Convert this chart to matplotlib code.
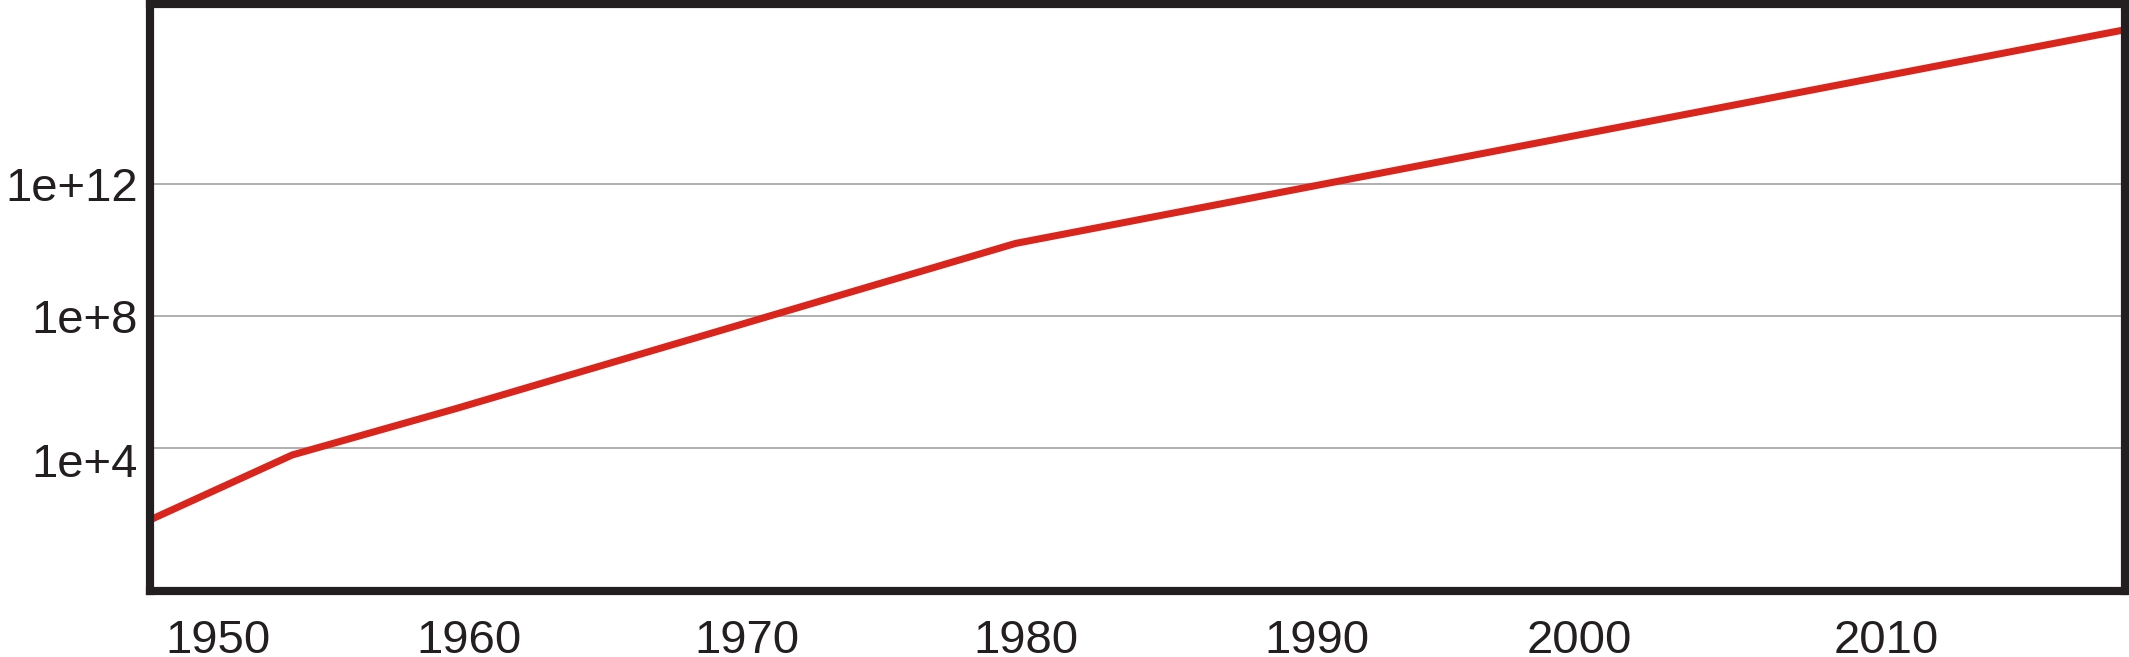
import matplotlib
matplotlib.use("Agg")
import matplotlib.pyplot as plt
from matplotlib.ticker import FixedLocator, FixedFormatter, NullLocator
from matplotlib.transforms import ScaledTranslation

# Data (log-scale values)
years = [1948.0, 1953.3, 1959.2, 1979.3, 2019.2]
values = [54, 6.0e3, 1.55e5, 1.6e10, 5.0e16]

# tick label positions as they appear in the reference (slightly irregular)
x_ticks = [1950.65, 1959.66, 1969.65, 1979.69, 1990.14, 1999.55, 2010.59]
x_labels = ["1950", "1960", "1970", "1980", "1990", "2000", "2010"]
y_ticks = [1e4, 1e8, 1e12]
y_labels = ["1e+4", "1e+8", "1e+12"]

plt.rcParams['font.family'] = ['Liberation Sans', 'DejaVu Sans']
dark = "#231F20"

fig = plt.figure(figsize=(21.29, 6.57), dpi=100)
ax = fig.add_axes([150 / 2129, 1 - 591 / 657, (2124.5 - 150) / 2129, (591 - 3.7) / 657])

ax.plot(years, values, color="#DA251D", lw=5.1, solid_capstyle="butt", zorder=3)

ax.set_yscale("log")
ax.set_xlim(1948.19, 2019.16)
ax.set_ylim(10 ** -0.353, 10 ** 17.486)

ax.xaxis.set_major_locator(FixedLocator(x_ticks))
ax.xaxis.set_major_formatter(FixedFormatter(x_labels))
ax.yaxis.set_major_locator(FixedLocator(y_ticks))
ax.yaxis.set_major_formatter(FixedFormatter(y_labels))
ax.yaxis.set_minor_locator(NullLocator())
ax.xaxis.set_minor_locator(NullLocator())

ax.grid(axis="y", color="#9a9a9a", lw=1.1, zorder=1)
ax.tick_params(axis="both", length=0, labelsize=34, labelcolor=dark)
ax.tick_params(axis="x", pad=20)
ax.tick_params(axis="y", pad=8.5)

fig.canvas.draw()
ylabs = ax.get_yticklabels()
# the lowest label sits a little below its gridline in the reference
ylabs[0].set_transform(ylabs[0].get_transform() + ScaledTranslation(0, -12 / 100, fig.dpi_scale_trans))

for s in ax.spines.values():
    s.set_linewidth(5.9)
    s.set_color(dark)
    s.set_zorder(4)

fig.savefig("out.png", dpi=100, facecolor="white")
